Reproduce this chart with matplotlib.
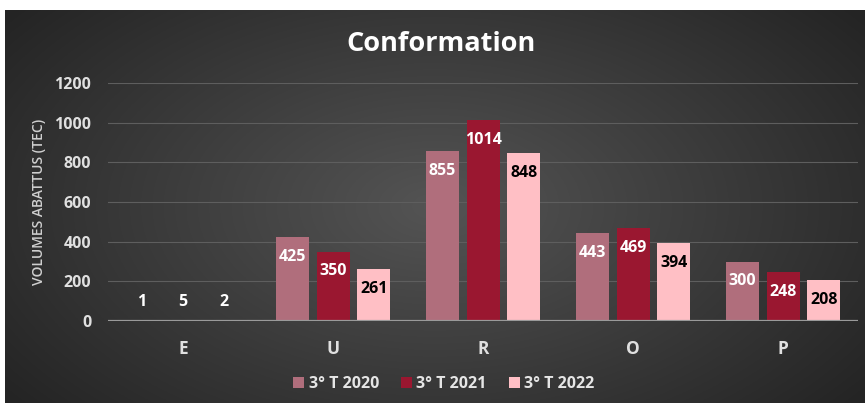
import numpy as np
import matplotlib
matplotlib.use("Agg")
import matplotlib.pyplot as plt
from matplotlib.patches import Patch

# data
categories = ["E", "U", "R", "O", "P"]
series = ["3° T 2020", "3° T 2021", "3° T 2022"]
v2020 = [1, 425, 855, 443, 300]
v2021 = [5, 350, 1014, 469, 248]
v2022 = [2, 261, 848, 394, 208]
colors = ["#B06E7C", "#9A1730", "#FFBFC5"]
label_colors = ["white", "white", "black"]

plt.rcParams['font.family'] = ['Open Sans', 'DejaVu Sans']

fig = plt.figure(figsize=(8.65, 4.05), dpi=100)
fig.patch.set_facecolor("white")

# radial gradient background
bg = fig.add_axes([5 / 865, 2 / 405, 860 / 865, 393 / 405], zorder=-10)
yy, xx = np.mgrid[-1:1:300j, -1:1:600j]
r = np.sqrt((xx * 0.95) ** 2 + (yy * 0.75) ** 2)
r = np.clip(r / 1.2, 0, 1)
c0 = np.array([0x54, 0x54, 0x54]) / 255
c1 = np.array([0x24, 0x24, 0x24]) / 255
img = c0[None, None, :] * (1 - r[..., None]) + c1[None, None, :] * r[..., None]
bg.imshow(img, aspect="auto", extent=[0, 1, 0, 1])
bg.axis("off")

ax = fig.add_axes([108 / 865, 84 / 405, 750 / 865, 238 / 405])
ax.patch.set_alpha(0)

x = np.arange(len(categories))
w = 0.22
step = 0.273
for i, vals in enumerate([v2020, v2021, v2022]):
    pos = x + (i - 1) * step
    ax.bar(pos, vals, width=w, color=colors[i], zorder=3)
    for p, v in zip(pos, vals):
        if v > 150:
            ly, lc = v - 100, label_colors[i]
        else:
            ly, lc = 96, "white"
        ax.text(p, ly, str(v), ha="center", va="center", fontsize=11.5,
                fontweight="bold", color=lc, zorder=4)

ax.set_xlim(-0.5, 4.5)
ax.set_ylim(0, 1200)
ax.set_yticks(range(0, 1201, 200))
ax.yaxis.grid(True, color="#5e5e5e", linewidth=0.8, zorder=0)
ax.axhline(0, color="#9a9a9a", linewidth=1.6, zorder=5)
for s in ax.spines.values():
    s.set_visible(False)
ax.tick_params(length=0)
ax.set_xticks(x)
ax.set_xticklabels(categories)
ax.tick_params(axis="x", pad=14)
ax.tick_params(axis="y", pad=12)
for t in ax.get_xticklabels():
    t.set_fontsize(12.5)
    t.set_fontweight("bold")
    t.set_color("#e0e0e0")
for t in ax.get_yticklabels():
    t.set_fontsize(11.5)
    t.set_fontweight("bold")
    t.set_color("#e0e0e0")
ax.set_ylabel("VOLUMES ABATTUS (TEC)", fontsize=10, fontweight="semibold",
              color="#d0d0d0", labelpad=6)

fig.text(441 / 865, 1 - 44 / 405, "Conformation", ha="center", va="center",
         fontsize=19.5, fontweight="bold", color="white")

handles = [Patch(facecolor=c) for c in colors]
fig.legend(handles, series, loc="center", bbox_to_anchor=(444 / 865, 1 - 384 / 405),
           ncol=3, frameon=False, handlelength=0.65, handleheight=0.65,
           handletextpad=0.3, columnspacing=1.4,
           prop={"weight": "bold", "size": 11.5})
for t in fig.legends[0].get_texts():
    t.set_color("#e6e6e6")

fig.savefig("out.png", dpi=100)
